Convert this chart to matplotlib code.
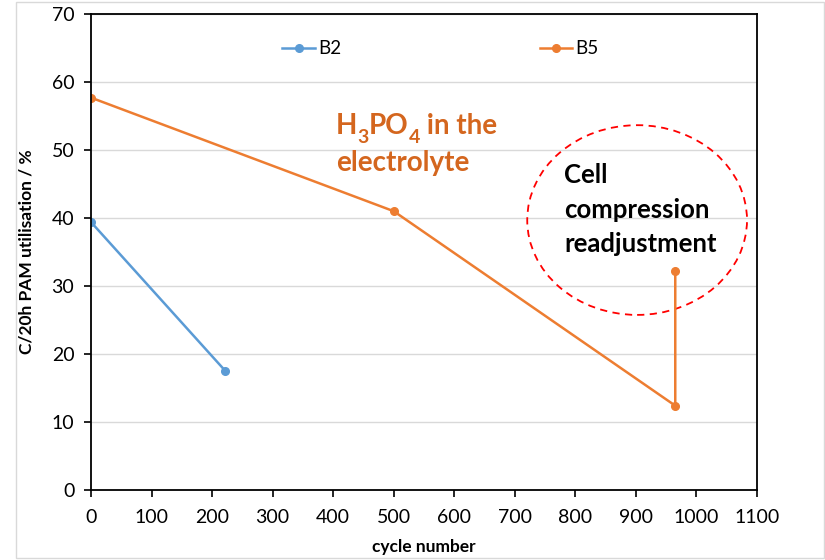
import matplotlib

matplotlib.use("Agg")
import matplotlib.pyplot as plt
from matplotlib.patches import Ellipse, Rectangle

plt.rcParams["font.family"] = ["Lato", "DejaVu Sans"]

# data
b2_cycles = [0, 222]
b2_util = [39.4, 17.5]
b5_cycles = [0, 500, 965, 965]
b5_util = [57.7, 41.0, 12.4, 32.2]

BLUE = "#5B9BD5"
ORANGE = "#ED7D31"
NOTE_ORANGE = "#D4661E"

fig = plt.figure(figsize=(8.25, 5.6), dpi=100)
ax = fig.add_axes([91 / 825, 1 - 490 / 560, (757 - 91) / 825, (490 - 14) / 560])

# light frame around the chart area, like the spreadsheet export
fig.patches.append(Rectangle((16 / 825, 2 / 560), 1 - 17 / 825, 1 - 4 / 560,
                             transform=fig.transFigure, fill=False,
                             edgecolor="#d9d9d9", linewidth=1.0))

ax.plot(b2_cycles, b2_util, color=BLUE, lw=1.8, marker="o", ms=5.5, label="B2")
ax.plot(b5_cycles, b5_util, color=ORANGE, lw=1.8, marker="o", ms=5.5, label="B5")

ax.set_xlim(0, 1100)
ax.set_ylim(0, 70)
ax.set_xticks(range(0, 1101, 100))
ax.set_yticks(range(0, 71, 10))
ax.tick_params(labelsize=14, length=5, direction="out", width=1.2)
ax.tick_params(axis="x", pad=9)
ax.tick_params(axis="y", pad=7)
ax.grid(axis="y", color="#d9d9d9", lw=1)
ax.set_axisbelow(True)
for s in ax.spines.values():
    s.set_linewidth(1.3)

ax.set_xlabel("cycle number", fontsize=12.5, fontweight="bold", labelpad=9)
ax.set_ylabel("C/20h PAM utilisation / %", fontsize=12.5, fontweight="bold", labelpad=12)

ax.legend(loc="upper left", bbox_to_anchor=(0.287, 0.945), ncol=2, frameon=False,
          fontsize=13.5, columnspacing=10.6, handlelength=1.75, handletextpad=0.15,
          borderpad=0, borderaxespad=0)

# H3PO4 note: pieces chained so the subscripts stay bold
note = dict(color=NOTE_ORANGE, fontweight="bold")
pieces = [("H", 20, 0), ("3", 14, -5), ("PO", 20, 0), ("4", 14, -5), (" in the", 20, 0)]
prev = ax.text(405, 52.4, pieces[0][0], fontsize=pieces[0][1], va="baseline", **note)
base = prev
for txt, size, dy in pieces[1:]:
    prev = ax.annotate(txt, xy=(1, 0), xycoords=(prev, base), xytext=(0, dy),
                       textcoords="offset points", fontsize=size, va="bottom", **note)
ax.text(405, 46.9, "electrolyte", fontsize=20, va="baseline", **note)

ax.add_patch(Ellipse((902, 39.7), 363, 27.9, fill=False, edgecolor="red",
                     linestyle=(0, (4, 3)), lw=1.3))
ax.text(782, 41.2, "Cell\ncompression\nreadjustment", color="black", fontsize=18.5,
        fontweight="bold", ha="left", va="center", linespacing=1.52)

fig.savefig("out.png", dpi=100)
